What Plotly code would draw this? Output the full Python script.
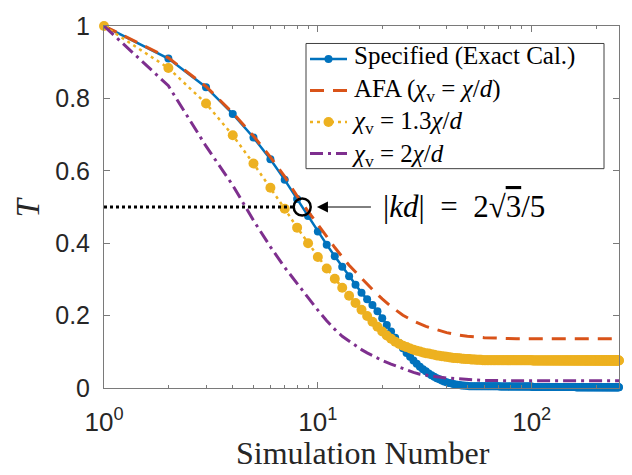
import numpy as np
import plotly.graph_objects as go

# ---------------- data ----------------
n_sim = list(range(1, 257))

T_specified = [
    1.000, 0.910, 0.831, 0.757, 0.692, 0.632, 0.575, 0.522, 0.475, 0.432,
    0.396, 0.364, 0.335, 0.309, 0.285, 0.263, 0.245, 0.229, 0.212, 0.193,
    0.174, 0.156, 0.139, 0.124, 0.110, 0.097, 0.086, 0.076, 0.067, 0.059,
    0.052, 0.046, 0.040, 0.035, 0.031, 0.027, 0.024, 0.021, 0.018, 0.016,
    0.014, 0.013, 0.011, 0.010, 0.009, 0.008, 0.007, 0.007, 0.006, 0.006,
    0.005, 0.005, 0.005, 0.005, 0.005, 0.005, 0.005, 0.005, 0.005, 0.005,
    0.005, 0.005, 0.005, 0.005, 0.005, 0.005, 0.005, 0.005, 0.005, 0.005,
    0.004, 0.004, 0.004, 0.004, 0.004, 0.004, 0.004, 0.004, 0.004, 0.004,
    0.004, 0.004, 0.004, 0.004, 0.004, 0.004, 0.004, 0.004, 0.004, 0.004,
    0.004, 0.004, 0.004, 0.004, 0.004, 0.004, 0.004, 0.004, 0.004, 0.004,
    0.003, 0.003, 0.003, 0.003, 0.003, 0.003, 0.003, 0.003, 0.003, 0.003,
    0.003, 0.003, 0.003, 0.003, 0.003, 0.003, 0.003, 0.003, 0.003, 0.003,
    0.003, 0.003, 0.003, 0.003, 0.003, 0.003, 0.003, 0.003, 0.003, 0.003,
    0.003, 0.003, 0.003, 0.003, 0.003, 0.003, 0.003, 0.003, 0.003, 0.003,
    0.003, 0.003, 0.003, 0.003, 0.003, 0.003, 0.003, 0.003, 0.003, 0.003,
    0.003, 0.003, 0.003, 0.003, 0.003, 0.003, 0.003, 0.003, 0.003, 0.003,
    0.002, 0.002, 0.002, 0.002, 0.002, 0.002, 0.002, 0.002, 0.002, 0.002,
    0.002, 0.002, 0.002, 0.002, 0.002, 0.002, 0.002, 0.002, 0.002, 0.002,
    0.002, 0.002, 0.002, 0.002, 0.002, 0.002, 0.002, 0.002, 0.002, 0.002,
    0.002, 0.002, 0.002, 0.002, 0.002, 0.002, 0.002, 0.002, 0.002, 0.002,
    0.002, 0.002, 0.002, 0.002, 0.002, 0.002, 0.002, 0.002, 0.002, 0.002,
    0.002, 0.002, 0.002, 0.002, 0.002, 0.002, 0.002, 0.002, 0.002, 0.002,
    0.002, 0.002, 0.002, 0.002, 0.002, 0.002, 0.002, 0.002, 0.002, 0.002,
    0.002, 0.002, 0.002, 0.002, 0.002, 0.002, 0.002, 0.002, 0.002, 0.002,
    0.002, 0.002, 0.002, 0.002, 0.002, 0.002, 0.002, 0.002, 0.002, 0.002,
    0.002, 0.002, 0.002, 0.002, 0.002, 0.002,
]

T_13 = [
    1.000, 0.884, 0.786, 0.698, 0.620, 0.553, 0.495, 0.443, 0.400, 0.362,
    0.330, 0.302, 0.277, 0.255, 0.235, 0.216, 0.199, 0.183, 0.169, 0.156,
    0.145, 0.136, 0.128, 0.122, 0.117, 0.113, 0.109, 0.106, 0.103, 0.101,
    0.098, 0.096, 0.095, 0.093, 0.092, 0.090, 0.089, 0.088, 0.087, 0.086,
    0.085, 0.084, 0.083, 0.083, 0.082, 0.082, 0.081, 0.081, 0.080, 0.080,
    0.080, 0.079, 0.079, 0.079, 0.078, 0.078, 0.078, 0.078, 0.077, 0.077,
    0.077, 0.077, 0.077, 0.077, 0.077, 0.077, 0.077, 0.077, 0.077, 0.077,
    0.077, 0.077, 0.077, 0.077, 0.077, 0.077, 0.077, 0.077, 0.077, 0.077,
    0.077, 0.077, 0.077, 0.077, 0.077, 0.077, 0.077, 0.077, 0.077, 0.077,
    0.077, 0.077, 0.077, 0.077, 0.077, 0.077, 0.077, 0.077, 0.077, 0.077,
    0.076, 0.076, 0.076, 0.076, 0.076, 0.076, 0.076, 0.076, 0.076, 0.076,
    0.076, 0.076, 0.076, 0.076, 0.076, 0.076, 0.076, 0.076, 0.076, 0.076,
    0.076, 0.076, 0.076, 0.076, 0.076, 0.076, 0.076, 0.076, 0.076, 0.076,
    0.076, 0.076, 0.076, 0.076, 0.076, 0.076, 0.076, 0.076, 0.076, 0.076,
    0.076, 0.076, 0.076, 0.076, 0.076, 0.076, 0.076, 0.076, 0.076, 0.076,
    0.076, 0.076, 0.076, 0.076, 0.076, 0.076, 0.076, 0.076, 0.076, 0.076,
    0.076, 0.076, 0.076, 0.076, 0.076, 0.076, 0.076, 0.076, 0.076, 0.076,
    0.076, 0.076, 0.076, 0.076, 0.076, 0.076, 0.076, 0.076, 0.076, 0.076,
    0.076, 0.076, 0.076, 0.076, 0.076, 0.076, 0.076, 0.076, 0.076, 0.076,
    0.076, 0.076, 0.076, 0.076, 0.076, 0.076, 0.076, 0.076, 0.076, 0.076,
    0.076, 0.076, 0.076, 0.076, 0.076, 0.076, 0.076, 0.076, 0.076, 0.076,
    0.076, 0.076, 0.076, 0.076, 0.076, 0.076, 0.076, 0.076, 0.076, 0.076,
    0.076, 0.076, 0.076, 0.076, 0.076, 0.076, 0.076, 0.076, 0.076, 0.076,
    0.076, 0.076, 0.076, 0.076, 0.076, 0.076, 0.076, 0.076, 0.076, 0.076,
    0.076, 0.076, 0.076, 0.076, 0.076, 0.076, 0.076, 0.076, 0.076, 0.076,
    0.076, 0.076, 0.076, 0.076, 0.076, 0.076,
]

n_afa = [1, 2, 3, 4, 5, 6, 7, 8, 9, 10, 12, 14, 16, 18, 20, 22, 25, 28, 32,
         36, 40, 45, 50, 60, 70, 85, 100, 130, 170, 256]
T_afa = [1.000, 0.912, 0.833, 0.760, 0.696, 0.638, 0.584, 0.530, 0.488, 0.451,
         0.388, 0.339, 0.302, 0.272, 0.246, 0.225, 0.201, 0.185, 0.170,
         0.160, 0.153, 0.147, 0.143, 0.139, 0.137, 0.136, 0.136, 0.136, 0.136, 0.136]

n_2 = [1, 2, 3, 4, 5, 6, 7, 8, 9, 10, 11, 12, 13, 14, 15, 16, 17, 18, 19, 20,
       22, 24, 26, 28, 30, 32, 36, 41, 50, 60, 80, 120, 256]
T_2 = [1.000, 0.835, 0.668, 0.560, 0.463, 0.390, 0.333, 0.288, 0.250, 0.215,
       0.186, 0.162, 0.143, 0.129, 0.117, 0.106, 0.097, 0.089, 0.082, 0.076,
       0.066, 0.057, 0.050, 0.043, 0.038, 0.035, 0.031, 0.027, 0.023, 0.021,
       0.020, 0.020, 0.020]

kd_point_n = [8.45]
kd_point_T = [0.5]
ref_line_n = [1, 7.75]
ref_line_T = [0.5, 0.5]
arrow_head_n = 9.9
arrow_tail_n = 18.0

x_tick_vals = [1, 10, 100]
x_tick_text = ["10<sup>0</sup>", "10<sup>1</sup>", "10<sup>2</sup>"]
x_minor_vals = [2, 3, 4, 5, 6, 7, 8, 9, 20, 30, 40, 50, 60, 70, 80, 90, 200]
y_tick_vals = [0, 0.2, 0.4, 0.6, 0.8, 1.0]
y_tick_text = ["0", "0.2", "0.4", "0.6", "0.8", "1"]

legend_labels = [
    "Specified (Exact Cal.)",
    "AFA (<i>χ</i><sub>v</sub> = <i>χ</i>/<i>d</i>)",
    "<i>χ</i><sub>v</sub> = 1.3<i>χ</i>/<i>d</i>",
    "<i>χ</i><sub>v</sub> = 2<i>χ</i>/<i>d</i>",
]
kd_label = "|<i>kd</i>|&nbsp;&nbsp;=&nbsp;&nbsp;2√<span style='text-decoration:overline'>3</span>/5"

# ---------------- style ----------------
BLUE = "#0072BD"
ORANGE = "#D95319"
YELLOW = "#EDB120"
PURPLE = "#7E2F8E"
AXC = "#7a7a7a"
TXT = "#262626"
SERIF = "Liberation Serif"
SANS = "Liberation Sans"

W, H = 632, 475
ML, MR, MT, MB = 104, 13, 15, 87
PW, PH = W - ML - MR, H - MT - MB


def fx(px):
    return (px - ML) / PW


def fy(py):
    return (H - MB - py) / PH


ORANGE_DASH = "14px,9px"
PURPLE_DASH = "13px,5px,3px,5px"
YELLOW_DASH = "3px,4px"
LEG_FONT = 25
LEG_LINE = LEG_FONT * 1.3

fig = go.Figure()

fig.add_trace(go.Scatter(x=n_sim, y=T_specified, mode="lines+markers",
                         line=dict(color=BLUE, width=2.5),
                         marker=dict(color=BLUE, size=8),
                         cliponaxis=False, showlegend=False))
fig.add_trace(go.Scatter(x=n_afa, y=T_afa, mode="lines",
                         line=dict(color=ORANGE, width=3, dash=ORANGE_DASH),
                         showlegend=False))
fig.add_trace(go.Scatter(x=n_sim, y=T_13, mode="lines+markers",
                         line=dict(color=YELLOW, width=2.5, dash=YELLOW_DASH),
                         marker=dict(color=YELLOW, size=10),
                         cliponaxis=False, showlegend=False))
fig.add_trace(go.Scatter(x=n_2, y=T_2, mode="lines",
                         line=dict(color=PURPLE, width=3, dash=PURPLE_DASH),
                         showlegend=False))
fig.add_trace(go.Scatter(x=ref_line_n, y=ref_line_T, mode="lines",
                         line=dict(color="black", width=3, dash="3px,3px"),
                         showlegend=False))
fig.add_trace(go.Scatter(x=kd_point_n, y=kd_point_T, mode="markers",
                         marker=dict(symbol="circle-open", size=17, color="black",
                                     line=dict(width=2.5, color="black")),
                         cliponaxis=False, showlegend=False))

# ---- manual legend (overlay axes in plot-fraction units) ----
leg_top_row = 49
leg_rows_py = [leg_top_row + i * LEG_LINE for i in range(4)]
sym_x0, sym_x1, sym_xm = fx(310), fx(347), fx(328.5)
leg_styles = [
    dict(line=dict(color=BLUE, width=2.5), marker=dict(color=BLUE, size=8)),
    dict(line=dict(color=ORANGE, width=3, dash=ORANGE_DASH)),
    dict(line=dict(color=YELLOW, width=2.5, dash=YELLOW_DASH), marker=dict(color=YELLOW, size=10)),
    dict(line=dict(color=PURPLE, width=3, dash=PURPLE_DASH)),
]
for py, st in zip(leg_rows_py, leg_styles):
    fig.add_trace(go.Scatter(x=[sym_x0, sym_x1], y=[fy(py), fy(py)], xaxis="x2", yaxis="y2",
                             mode="lines", line=st["line"], showlegend=False, hoverinfo="skip"))
    if "marker" in st:
        fig.add_trace(go.Scatter(x=[sym_xm], y=[fy(py)], xaxis="x2", yaxis="y2",
                                 mode="markers", marker=st["marker"], showlegend=False,
                                 hoverinfo="skip"))

fig.add_shape(type="rect", xref="paper", yref="paper",
              x0=fx(306), x1=fx(604), y0=fy(162), y1=fy(33),
              line=dict(color="#404040", width=1), fillcolor="white", layer="below")

fig.add_annotation(x=fx(350), y=fy((leg_rows_py[0] + leg_rows_py[-1]) / 2),
                   xref="paper", yref="paper", text="<br>".join(legend_labels),
                   xanchor="left", yanchor="middle", align="left", showarrow=False,
                   font=dict(family=SERIF, size=LEG_FONT, color="black"))

# ---- arrow + label ----
fig.add_annotation(x=np.log10(arrow_head_n), y=0.5, xref="x", yref="y",
                   ax=np.log10(arrow_tail_n), ay=0.5, axref="x", ayref="y",
                   text="", showarrow=True, arrowhead=2, arrowsize=2.2,
                   arrowwidth=1, arrowcolor="black", standoff=0, startstandoff=0)
fig.add_annotation(x=fx(381), y=fy(201), xref="paper", yref="paper",
                   text=kd_label,
                   xanchor="left", yanchor="middle", showarrow=False,
                   font=dict(family=SERIF, size=31, color="black"))

# ---- axis titles ----
fig.add_annotation(x=fx(363), y=fy(475), xref="paper", yref="paper",
                   text="Simulation Number", showarrow=False,
                   xanchor="center", yanchor="bottom", borderpad=0,
                   font=dict(family=SERIF, size=32, color=TXT))
fig.add_annotation(x=fx(28), y=fy(202), xref="paper", yref="paper",
                   text="<i>T</i>", showarrow=False, textangle=-90,
                   xanchor="center", yanchor="middle",
                   font=dict(family=SERIF, size=33, color=TXT))

fig.update_layout(
    width=W, height=H, autosize=False,
    margin=dict(l=ML, r=MR, t=MT, b=MB),
    paper_bgcolor="white", plot_bgcolor="white",
    showlegend=False,
    xaxis=dict(type="log", range=[0, np.log10(256)],
               tickmode="array", tickvals=x_tick_vals, ticktext=x_tick_text,
               ticks="inside", ticklen=6, tickwidth=1, tickcolor=AXC,
               minor=dict(tickmode="array", tickvals=x_minor_vals, ticks="inside",
                          ticklen=3, tickwidth=1, tickcolor=AXC, showgrid=False),
               showline=True, linecolor=AXC, linewidth=1, mirror="ticks",
               showgrid=False, zeroline=False,
               tickfont=dict(family=SANS, size=26, color=TXT), ticklabelstandoff=11),
    yaxis=dict(range=[0, 1],
               tickmode="array", tickvals=y_tick_vals, ticktext=y_tick_text,
               ticks="inside", ticklen=6, tickwidth=1, tickcolor=AXC,
               showline=True, linecolor=AXC, linewidth=1, mirror="ticks",
               showgrid=False, zeroline=False,
               tickfont=dict(family=SANS, size=25, color=TXT), ticklabelstandoff=8),
    xaxis2=dict(range=[0, 1], overlaying="x", visible=False, domain=[0, 1]),
    yaxis2=dict(range=[0, 1], overlaying="y", visible=False, domain=[0, 1]),
)

fig.write_html("out.html")
